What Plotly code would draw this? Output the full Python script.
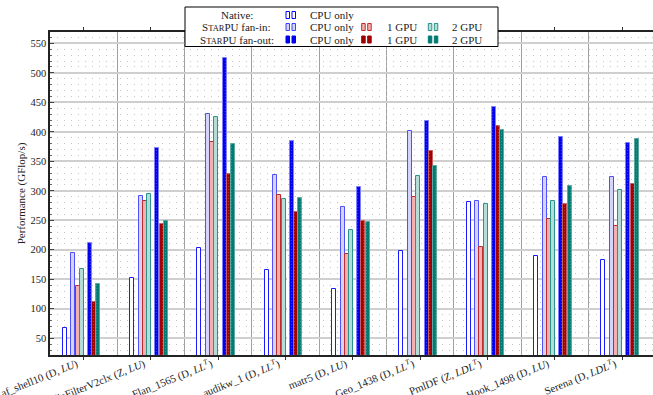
import plotly.graph_objects as go
import numpy as np

categories = [
    "af_shell10 (D, <i>LU</i>)",
    "dieFilterV2clx (Z, <i>LU</i>)",
    "Flan_1565 (D, <i>LL<sup>T</sup></i>)",
    "audikw_1 (D, <i>LL<sup>T</sup></i>)",
    "matr5 (D, <i>LU</i>)",
    "Geo_1438 (D, <i>LL<sup>T</sup></i>)",
    "PmlDF (Z, <i>LDL<sup>T</sup></i>)",
    "Hook_1498 (D, <i>LU</i>)",
    "Serena (D, <i>LDL<sup>T</sup></i>)",
]
native_cpu = [67, 153, 203, 166, 133, 198, 281, 189, 183]
fanin_cpu = [195, 291, 430, 326, 272, 401, 283, 323, 323]
fanin_1gpu = [139, 282, 383, 293, 193, 290, 205, 253, 240]
fanin_2gpu = [167, 295, 425, 286, 234, 325, 277, 283, 302]
fanout_cpu = [211, 373, 525, 384, 306, 418, 442, 391, 381]
fanout_1gpu = [111, 244, 329, 264, 248, 368, 410, 278, 312]
fanout_2gpu = [142, 248, 379, 288, 247, 342, 403, 308, 388]

FONT = "Liberation Serif"
xpos = np.arange(len(categories))
PXU = 67.3  # pixels per group
BW = 4.0 / PXU

fig = go.Figure()

def add_bar(vals, center_px, fill, line, lw=1.0, pattern=None, width=BW):
    w = width
    marker = dict(color=fill, line=dict(color=line, width=lw))
    if pattern is not None:
        marker["pattern"] = pattern
    fig.add_trace(go.Bar(
        x=xpos, y=vals, offset=center_px / PXU - w / 2, width=w,
        marker=marker, showlegend=False, hoverinfo="skip"))

add_bar(native_cpu, -18.8, "white", "#1a1aff")
add_bar(fanin_cpu, -10.2, "#d4d4ff", "#5050ff")
add_bar(fanin_1gpu, -6.1, "#f2b0b0", "#c02a2a")
add_bar(fanin_2gpu, -1.9, "#b4dcd8", "#2a948c")
add_bar(native_cpu, 3.0, "white", "white", lw=0)
dots = lambda c: dict(shape=".", fgcolor=c, size=3, solidity=0.15, fillmode="overlay")
add_bar(fanout_cpu, 6.4, "#0000ee", "#8080ff", pattern=dots("#6a6aff"))
add_bar(fanout_1gpu, 10.6, "#a00000", "#c86060", pattern=dots("#d06060"))
add_bar(fanout_2gpu, 14.8, "#007a72", "#5aa8a0", pattern=dots("#60b0a8"))

L, R, T, B = 50, 653, 32, 355
W, H = R - L, B - T

def px(x):
    return (x - L) / W

def py(y):
    return (B - y) / H

shapes = []
annotations = []
# legend box
shapes.append(dict(type="rect", xref="paper", yref="paper",
                   x0=px(185), x1=px(498), y0=py(46.5), y1=py(7),
                   fillcolor="white", line=dict(color="black", width=1), layer="above"))

rows_y = [15, 27, 39.5]
row_labels = ["Native:",
              "S<span style='font-size:8.5px'>TAR</span>PU fan-in:",
              "S<span style='font-size:8.5px'>TAR</span>PU fan-out:"]
for ry, lab in zip(rows_y, row_labels):
    annotations.append(dict(xref="paper", yref="paper", x=px(237), y=py(ry),
                            text=lab, showarrow=False, xanchor="center", yanchor="middle",
                            font=dict(family=FONT, size=11, color="#222")))

cols = [(286, 308, "CPU only"), (361.7, 385, "1 GPU"), (428.3, 450, "2 GPU")]
styles = {
    "native": [("white", "#0000ff")],
    "fanin": [("#d4d4ff", "#4040ff"), ("#f2b0b0", "#c02a2a"), ("#b4dcd8", "#2a948c")],
    "fanout": [("#0000ee", "#0000ee"), ("#a00000", "#a00000"), ("#007a72", "#007a72")],
}
for ri, key in enumerate(["native", "fanin", "fanout"]):
    ry = rows_y[ri]
    for ci, (fillc, linec) in enumerate(styles[key]):
        ix, tx, txt = cols[ci]
        for dx in (0, 6):
            shapes.append(dict(type="rect", xref="paper", yref="paper",
                               x0=px(ix + dx), x1=px(ix + dx + 3.5),
                               y0=py(ry + 3.5), y1=py(ry - 3.5),
                               fillcolor=fillc, line=dict(color=linec, width=1), layer="above"))
        annotations.append(dict(xref="paper", yref="paper", x=px(tx), y=py(ry),
                                text=txt, showarrow=False, xanchor="left", yanchor="middle",
                                font=dict(family=FONT, size=11, color="#222")))

fig.update_layout(
    width=653, height=395,
    margin=dict(l=L, r=653 - R, t=T, b=395 - B, autoexpand=False),
    paper_bgcolor="white", plot_bgcolor="white",
    barmode="overlay", bargap=0,
    font=dict(family=FONT, size=11, color="#222"),
    shapes=shapes, annotations=annotations,
    xaxis=dict(
        automargin=False,
        range=[-0.5, -0.5 + W / PXU],
        tickmode="array", tickvals=xpos, ticktext=categories,
        tickangle=-22, ticks="outside", ticklen=3, tickcolor="#333",
        ticklabelstandoff=-6, ticklabelshift=-7, ticklabeloverflow="allow",
        showgrid=False, zeroline=False,
        showline=True, linecolor="#222", linewidth=1.5, mirror="ticks",
        tickfont=dict(family=FONT, size=10.8, color="#222"),
        minor=dict(tick0=0.5, dtick=1, showgrid=True, gridcolor="#a0a0a0",
                   gridwidth=1.3, ticks=""),
    ),
    yaxis=dict(
        automargin=False,
        range=[21.7, 569.2],
        tickmode="linear", tick0=0, dtick=50,
        ticks="inside", ticklen=4, tickcolor="#444",
        showgrid=True, gridcolor="#cfcfcf", gridwidth=1.5,
        zeroline=False, showline=True, linecolor="#222", linewidth=1.5, mirror=False,
        tickfont=dict(family=FONT, size=10.5, color="#222"),
        title=dict(text="Performance (GFlop/s)", standoff=3,
                   font=dict(family=FONT, size=11, color="#222")),
        minor=dict(dtick=10, ticks="inside", ticklen=2, tickcolor="#666",
                   showgrid=True, gridcolor="#c4c4c4", griddash="1px,6px", gridwidth=1),
    ),
)

fig.write_html("out.html")
